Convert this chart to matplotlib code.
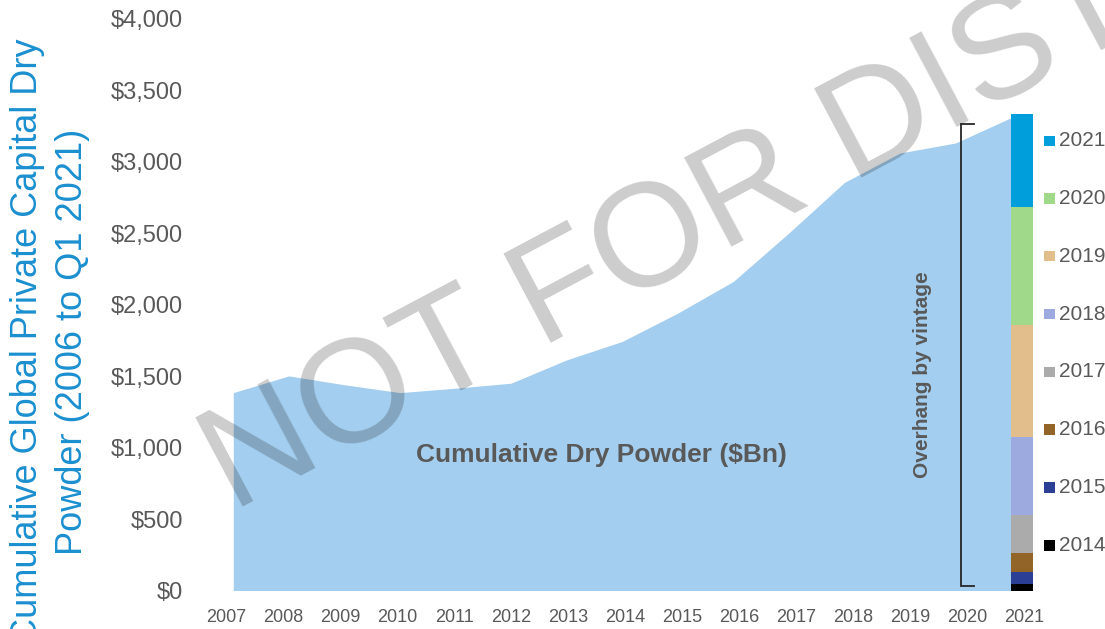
import matplotlib
matplotlib.use("Agg")
import matplotlib.pyplot as plt
import numpy as np
from matplotlib.patches import Rectangle

# ---------------- data ----------------
years = ['2007', '2008', '2009', '2010', '2011', '2012', '2013', '2014',
         '2015', '2016', '2017', '2018', '2019', '2020', '2021']
dry_powder = [1385, 1502, 1440, 1385, 1416, 1451, 1614, 1743,
              1941, 2163, 2502, 2856, 3062, 3132, 3309]

vintages = ['2014', '2015', '2016', '2017', '2018', '2019', '2020', '2021']
overhang = [46, 86, 133, 264, 546, 785, 821, 656]
vintage_colors = ['#000000', '#2B3F94', '#936427', '#ABABAB',
                  '#9DAADF', '#E2BE8C', '#A0D98A', '#009EDB']

y_ticks = [0, 500, 1000, 1500, 2000, 2500, 3000, 3500, 4000]

# ---------------- layout helpers ----------------
W, H = 1105, 629
def fx(px): return px / W
def fy(py): return 1 - py / H

GRAY = '#595959'
BLUE_LABEL = '#1B8FD0'
AREA = '#A3CEEF'
FONT = 'Liberation Sans'

fig = plt.figure(figsize=(W / 100, H / 100), dpi=100)
ax_l, ax_r, ax_t, ax_b = 205.5, 1038.8, 19.0, 590.5
ax = fig.add_axes([fx(ax_l), fy(ax_b), (ax_r - ax_l) / W, (ax_b - ax_t) / H])
ax.set_xlim(-0.5, 14.5)
ax.set_ylim(0, 4000)

x_area = np.arange(len(years))
ax.fill_between(x_area, 0, dry_powder, color=AREA, lw=0, zorder=1)

bottom = 0
for val, c in zip(overhang, vintage_colors):
    ax.bar(x_area[-1], val, bottom=bottom, width=0.40, align='edge',
           color=c, lw=0, zorder=2)
    bottom += val

# bracket
ax.plot([13.33, 13.10, 13.10, 13.33], [3267, 3267, 31, 31],
        color='#262626', lw=1.3, zorder=3, solid_joinstyle='miter')

# axes styling
for s in ax.spines.values():
    s.set_visible(False)
tick_pos = x_area * 1.0261 - 0.1224
ax.set_xticks(tick_pos)
ax.set_xticklabels(years, family=FONT, fontsize=13, color=GRAY)
ax.set_yticks(y_ticks)
ax.set_yticklabels(['${:,.0f}'.format(v) for v in y_ticks],
                   family=FONT, fontsize=17, color=GRAY)
ax.tick_params(axis='x', length=0, pad=13.5)
ax.tick_params(axis='y', length=0, pad=16)

# texts
fig.text(fx(601.5), fy(455), 'Cumulative Dry Powder ($Bn)', ha='center', va='center',
         family=FONT, fontweight='bold', fontsize=19, color=GRAY)
fig.text(fx(923), fy(375), 'Overhang by vintage', ha='center', va='center',
         rotation=90, family=FONT, fontweight='bold', fontsize=15, color=GRAY)

fig.text(fx(27.5), fy(341.5), 'Cumulative Global Private Capital Dry', ha='center', va='center',
         rotation=90, family=FONT, fontsize=26, color=BLUE_LABEL)
fig.text(fx(73), fy(341.5), 'Powder (2006 to Q1 2021)', ha='center', va='center',
         rotation=90, family=FONT, fontsize=26, color=BLUE_LABEL)

# legend (manual, top = latest vintage)
for i, (lab, c) in enumerate(zip(vintages[::-1], vintage_colors[::-1])):
    cy = 140.7 + 57.8 * i
    fig.add_artist(Rectangle((fx(1044.3), fy(cy + 5.2)), 10.7 / W, 10.4 / H,
                             transform=fig.transFigure, color=c, lw=0))
    fig.text(fx(1059), fy(cy), lab, ha='left', va='center',
             family=FONT, fontsize=15, color=GRAY)

# watermark
fig.text(fx(233), fy(512), 'NOT FOR DISTRIBUTION', rotation=28, rotation_mode='anchor',
         ha='left', va='baseline', family=FONT, fontsize=106,
         color='black', alpha=0.2, zorder=10)

fig.savefig('out.png', dpi=100)
